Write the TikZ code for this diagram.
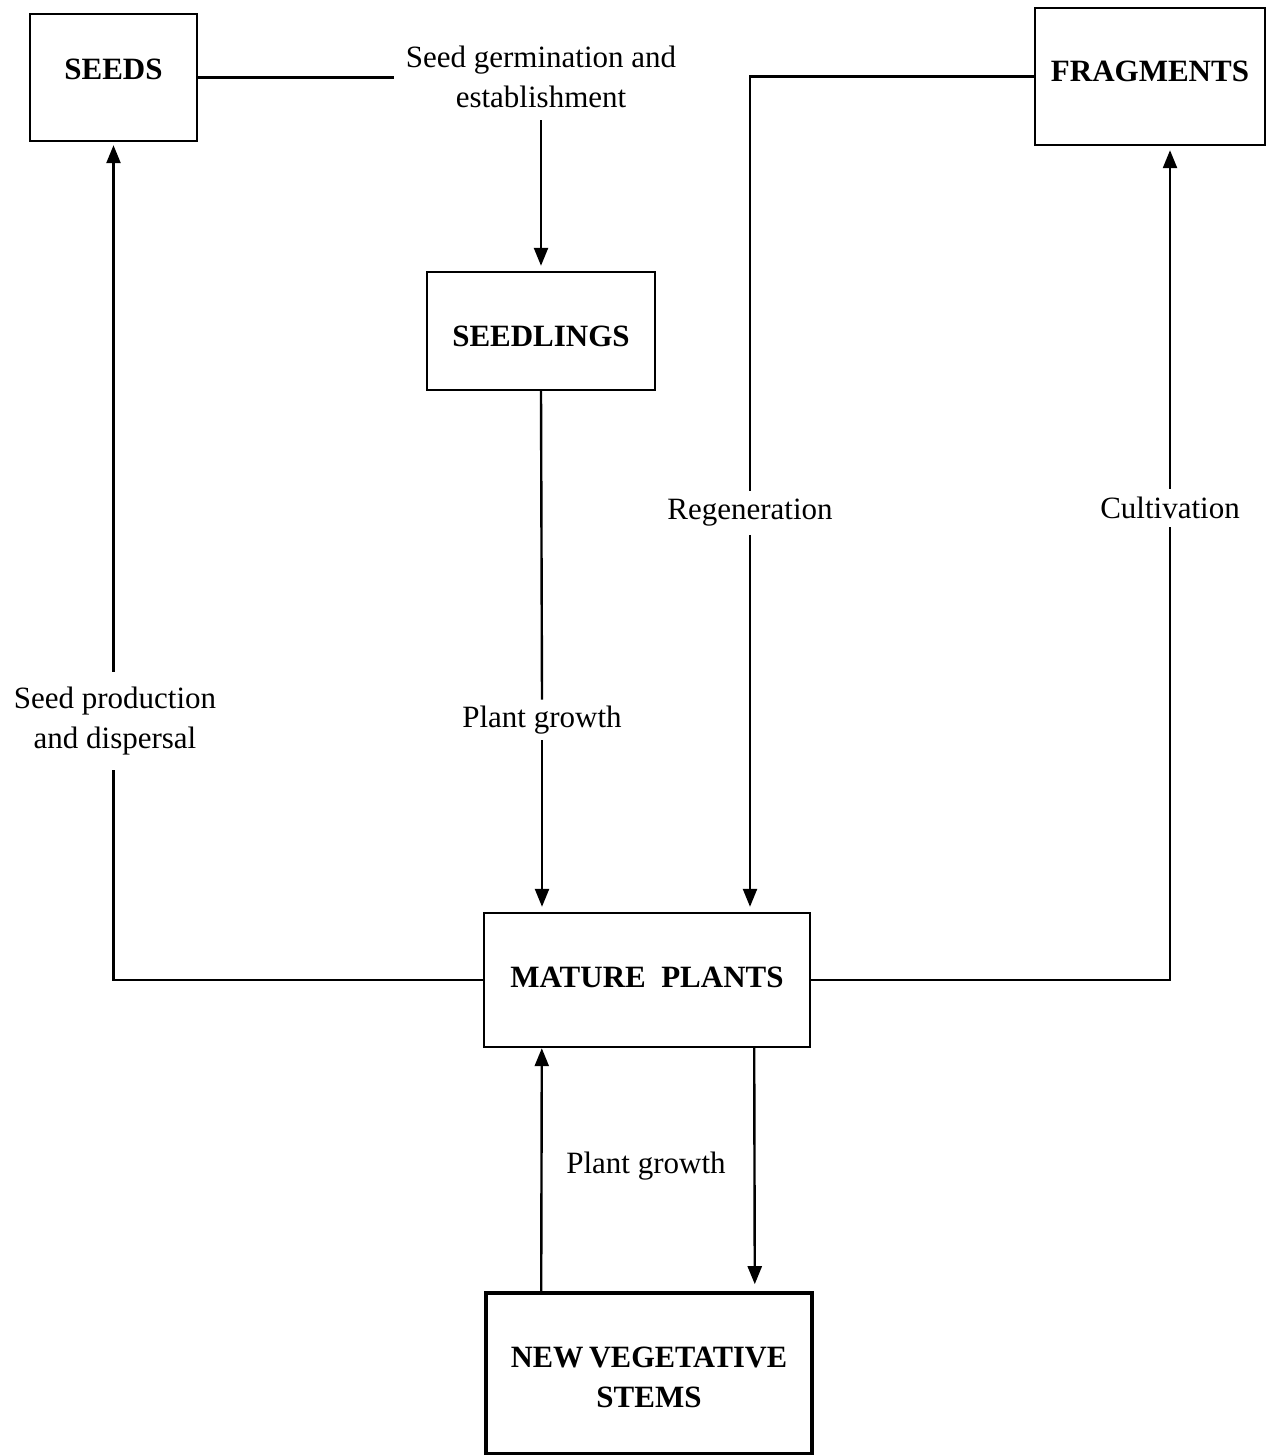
\documentclass[tikz,border=0pt]{standalone}
\usepackage{fontspec}
\setmainfont{Liberation Serif}
\usetikzlibrary{arrows.meta,calc}
\newcommand{\boxtxt}[2]{\raisebox{#1}[0pt][0pt]{#2}}
\begin{document}
\begin{tikzpicture}[x=1pt,y=-1pt,
  box/.style={draw,line width=2.4pt,inner sep=0pt,font=\fontsize{31}{40}\selectfont\bfseries,align=center},
  lbl/.style={inner xsep=12pt,inner ysep=12pt,font=\fontsize{31}{40}\selectfont,align=center},
  ln/.style={line width=2.4pt},
  arr/.style={line width=2.4pt,-{Triangle[width=14pt,length=18pt]}}]
\useasboundingbox (0,0) rectangle (1273,1455);
% boxes
\node[box,minimum width=167pt,minimum height=127pt] (seeds) at (113.5,77.5) {\boxtxt{-1.75pt}{SEEDS}};
\node[box,minimum width=228pt,minimum height=118pt] (seedlings) at (541,331) {\boxtxt{-15.25pt}{SEEDLINGS}};
\node[box,minimum width=230pt,minimum height=137pt] (fragments) at (1150,76.5) {\boxtxt{-4.75pt}{FRAGMENTS}};
\node[box,minimum width=326pt,minimum height=134pt] (mature) at (647,980) {\boxtxt{-7.25pt}{MATURE\ \ PLANTS}};
\node[box,line width=3.6pt,minimum width=326pt,minimum height=161pt] (nvs) at (649,1373.5) {\boxtxt{6.25pt}{\begin{tabular}[t]{@{}c@{}}\scalebox{0.98}[1]{NEW\hspace{-2pt} VEGETATIVE}\\STEMS\end{tabular}}};
% labels
\node[lbl] (germ) at (541,77) {Seed germination and\\establishment};
\node[lbl,inner ysep=6pt] (pg1) at (542,720) {Plant growth};
\node[lbl,inner ysep=8pt] (regen) at (750,513) {Regeneration};
\node[lbl,inner ysep=8pt] (cult) at (1170,508) {Cultivation};
\node[lbl,inner ysep=15pt] (seedprod) at (115,721) {Seed production\\and dispersal};
\node[lbl] (pg2) at (646,1166) {Plant growth};
% connectors
\draw[ln] (seeds.east) -- (seeds.east -| germ.west);
\draw[arr,shorten >=5pt] (germ.south) -- (seedlings.north);
\draw[ln] (seedlings.south) -- (pg1.north);
\draw[arr,shorten >=5pt] (pg1.south) -- (pg1.south |- mature.north);
\draw[ln] (fragments.west) -| (regen.north);
\draw[arr,shorten >=5pt] (regen.south) -- (regen.south |- mature.north);
\draw[ln] (mature.east) -| (cult.south);
\draw[arr,shorten >=4pt] (cult.north) -- (cult.north |- fragments.south);
\draw[ln] (mature.west) -| (seedprod.south -| seeds.south);
\draw[arr,shorten >=3pt] (seedprod.north -| seeds.south) -- (seeds.south);
\draw[arr] ($(nvs.north west)+(57,0)$) -- ($(mature.south west)+(59,0)$);
\draw[arr,shorten >=7pt] ($(mature.south east)+(-57,0)$) -- ($(nvs.north east)+(-59,0)$);
\end{tikzpicture}
\end{document}
